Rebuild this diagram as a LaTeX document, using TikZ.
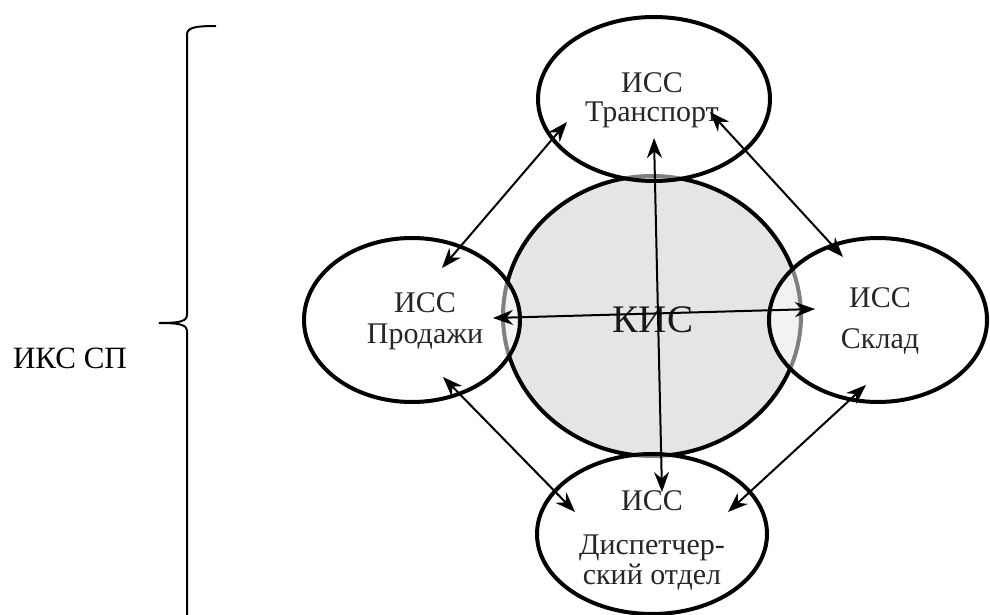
\documentclass[tikz,border=0pt]{standalone}
\usepackage{fontspec}
\setmainfont{Liberation Serif}
\usetikzlibrary{arrows.meta,shapes.geometric}
\begin{document}
\begin{tikzpicture}[x=1pt,y=-1pt,
  subsys/.style={draw=black,line width=4pt,ellipse,fill=white,fill opacity=0.5,text opacity=1,inner sep=0pt},
  lbl/.style={font=\fontsize{30}{34}\selectfont,anchor=base,text=black!85,inner sep=0pt},
  link/.style={line width=2pt,{Stealth[length=20pt,width=15pt]}-{Stealth[length=20pt,width=15pt]}}]
\useasboundingbox (0,0) rectangle (990,615);
% central system
\node[draw=black,line width=4pt,ellipse,fill=black!10,minimum width=298pt,minimum height=280pt,inner sep=0pt] (kis) at (652,316) {};
% subsystems
\node[subsys,minimum width=232pt,minimum height=164pt] (tr) at (654,99) {};
\node[subsys,minimum width=216pt,minimum height=164pt] (pr) at (412,320) {};
\node[subsys,minimum width=218pt,minimum height=164pt] (sk) at (878,320) {};
\node[subsys,minimum width=230pt,minimum height=160pt] (ds) at (652,534) {};
% labels
\node[lbl] (trl1) at (652,93) {ИСС};
\node[lbl] (trl2) at (652,122) {Транспорт};
\node[lbl] (prl1) at (425,312) {ИСС};
\node[lbl] (prl2) at (425,343) {Продажи};
\node[lbl] (skl1) at (880,307) {ИСС};
\node[lbl] (skl2) at (880,348) {Склад};
\node[lbl] (dsl1) at (652,510) {ИСС};
\node[lbl] (dsl2) at (652,554) {Диспетчер-};
\node[lbl] (dsl3) at (652,584) {ский отдел};
\node[font=\fontsize{39}{44}\selectfont,text=black!90] (kisl) at (653,320) {КИС};
% connector ends
\coordinate (trA) at (567,122);
\coordinate (trB) at (710,112);
\coordinate (trC) at (654,138);
\coordinate (prA) at (442,268);
\coordinate (prB) at (493,318);
\coordinate (prC) at (443,377);
\coordinate (skA) at (843,257);
\coordinate (skB) at (815,309);
\coordinate (skC) at (866,385);
\coordinate (dsA) at (575,512);
\coordinate (dsB) at (662,492);
\coordinate (dsC) at (728,512);
% connectors
\draw[link] (trA) -- (prA);
\draw[link] (trB) -- (skA);
\draw[link] (trC) -- (dsB);
\draw[link] (prB) -- (skB);
\draw[link] (prC) -- (dsA);
\draw[link] (skC) -- (dsC);
% brace
\coordinate (bt) at (216,26);
\coordinate (bc) at (159,323);
\coordinate (bb) at (187,615);
\draw[line width=2pt] (bt) .. controls (193,26) and (187,28) .. (187,35) -- (187,314)
  .. controls (187,321) and (182,323) .. (bc)
  .. controls (182,323) and (187,325) .. (187,332) -- (bb);
\node[font=\fontsize{31}{36}\selectfont,anchor=base,inner sep=0pt] (iks) at (70,368) {ИКС СП};
\end{tikzpicture}
\end{document}
